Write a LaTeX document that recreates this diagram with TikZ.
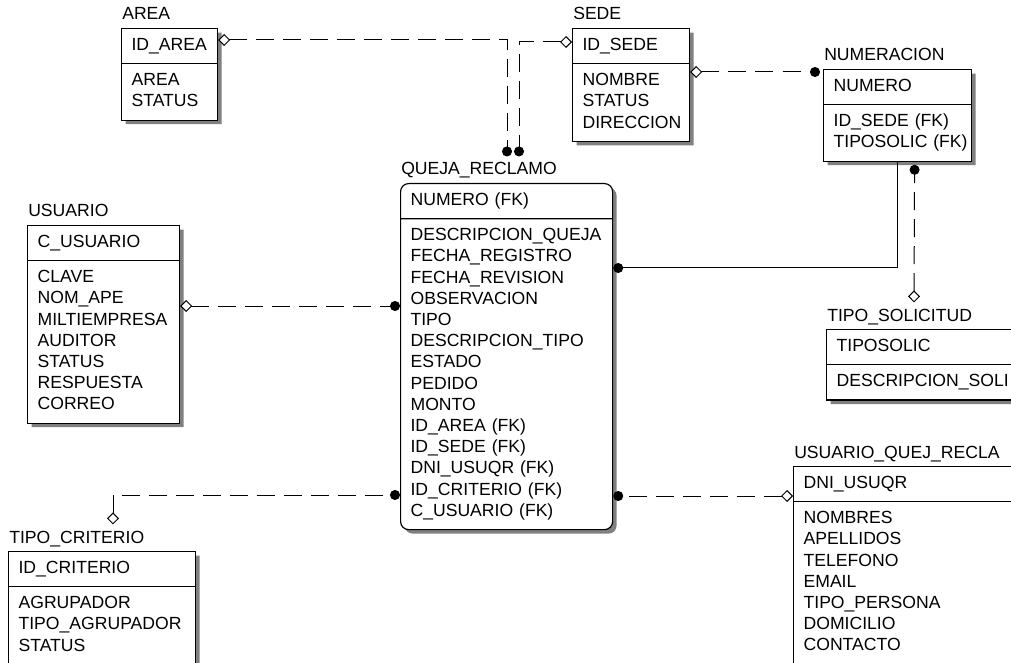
\documentclass[tikz,border=0pt]{standalone}
\usepackage{fontspec}
\setmainfont{Liberation Sans}
\usetikzlibrary{arrows.meta,calc,shapes.multipart,shadows}
\newcommand{\erfont}{\fontsize{13.2}{15.9}\selectfont}
\tikzset{
  entity/.style={rectangle split,rectangle split parts=2,draw=black,fill=white,
    line width=0.9pt,anchor=north west,align=left,text width=#1,
    inner xsep=7.5pt,inner ysep=4.8pt,font=\erfont,
    general shadow={fill=black!50,shadow xshift=3pt,shadow yshift=-3pt}},
  depentity/.style={entity=#1,rounded corners=6pt},
  entname/.style={anchor=base west,inner xsep=0pt,inner ysep=4.5pt,font=\erfont},
  nonidrel/.style={line width=0.75pt,dash pattern=on 13.5pt off 6.75pt,
    arrows={Diamond[fill=white,length=9pt,width=9pt]-Circle[length=7.5pt]}},
  idrel/.style={line width=0.75pt,arrows={-Circle[length=7.5pt]}}
}

\begin{document}
\begin{tikzpicture}[x=0.75pt,y=-0.75pt]
  \useasboundingbox (0,0) rectangle (1011,663);
  \clip (0,0) rectangle (1011,663);

  % entities
  \node[entity=57pt] (area) at (121,28)
    {\strut ID\_AREA\strut\nodepart{two}\strut AREA\\STATUS\strut};
  \node[entity=72.75pt] (sede) at (572,28)
    {\strut ID\_SEDE\strut\nodepart{two}\strut NOMBRE\\STATUS\\DIRECCION\strut};
  \node[entity=96pt] (numeracion) at (823,69)
    {\strut NUMERO\strut\nodepart{two}\strut ID\_SEDE~(FK)\\TIPOSOLIC~(FK)\strut};
  \node[depentity=144pt] (queja) at (400,183)
    {\strut NUMERO~(FK)\strut\nodepart{two}\strut DESCRIPCION\_QUEJA\\FECHA\_REGISTRO\\
     FECHA\_REVISION\\OBSERVACION\\TIPO\\DESCRIPCION\_TIPO\\ESTADO\\PEDIDO\\MONTO\\
     ID\_AREA~(FK)\\ID\_SEDE~(FK)\\DNI\_USUQR~(FK)\\ID\_CRITERIO~(FK)\\C\_USUARIO~(FK)\strut};
  \node[entity=99pt] (usuario) at (27,225)
    {\strut C\_USUARIO\strut\nodepart{two}\strut CLAVE\\NOM\_APE\\MILTIEMPRESA\\AUDITOR\\
     STATUS\\RESPUESTA\\CORREO\strut};
  \node[entity=165pt] (tiposol) at (826,329)
    {\strut TIPOSOLIC\strut\nodepart{two}\strut DESCRIPCION\_SOLI\strut};
  \node[entity=125.25pt] (tipocrit) at (8,551)
    {\strut ID\_CRITERIO\strut\nodepart{two}\strut AGRUPADOR\\TIPO\_AGRUPADOR\\STATUS\strut};
  \node[entity=165pt] (usuqr) at (793,466)
    {\strut DNI\_USUQR\strut\nodepart{two}\strut NOMBRES\\APELLIDOS\\TELEFONO\\EMAIL\\
     TIPO\_PERSONA\\DOMICILIO\\CONTACTO\strut};

  % entity names
  \node[entname] (areaname) at ($(area.north west)+(1,-8)$) {AREA};
  \node[entname] (sedename) at ($(sede.north west)+(1,-8)$) {SEDE};
  \node[entname] (numeracionname) at ($(numeracion.north west)+(1,-8)$) {NUMERACION};
  \node[entname] (quejaname) at ($(queja.north west)+(1,-8)$) {QUEJA\_RECLAMO};
  \node[entname] (usuarioname) at ($(usuario.north west)+(1,-8)$) {USUARIO};
  \node[entname] (tiposolname) at ($(tiposol.north west)+(1,-8)$) {TIPO\_SOLICITUD};
  \node[entname] (tipocritname) at ($(tipocrit.north west)+(1,-8)$) {TIPO\_CRITERIO};
  \node[entname] (usuqrname) at ($(usuqr.north west)+(1,-8)$) {USUARIO\_QUEJ\_RECLA};

  % relationships
  \draw[nonidrel] ($(area.north east)+(0,12)$) -| ($(quejaname.north west)+(106,0)$);
  \draw[nonidrel] ($(sede.north west)+(0,14)$) -| ($(quejaname.north west)+(118,0)$);
  \draw[nonidrel] ($(sede.north east)+(0,44)$) -- ($(numeracion.north west)+(-3,3)$);
  \draw[idrel] (numeracion.south) |- ($(queja.north east)+(0,85)$);
  \draw[nonidrel] ($(tiposolname.north west)+(87,0)$) -- ($(numeracion.south)+(17,3)$);
  \draw[nonidrel] ($(usuario.north east)+(0,81)$) -- ($(queja.north west)+(0,123)$);
  \draw[nonidrel] ($(tipocritname.north west)+(104,0)$) |- ($(queja.north west)+(0,312)$);
  \draw[nonidrel] ($(usuqr.north west)+(0,30)$) -- ($(queja.north east)+(0,313)$);
\end{tikzpicture}
\end{document}
